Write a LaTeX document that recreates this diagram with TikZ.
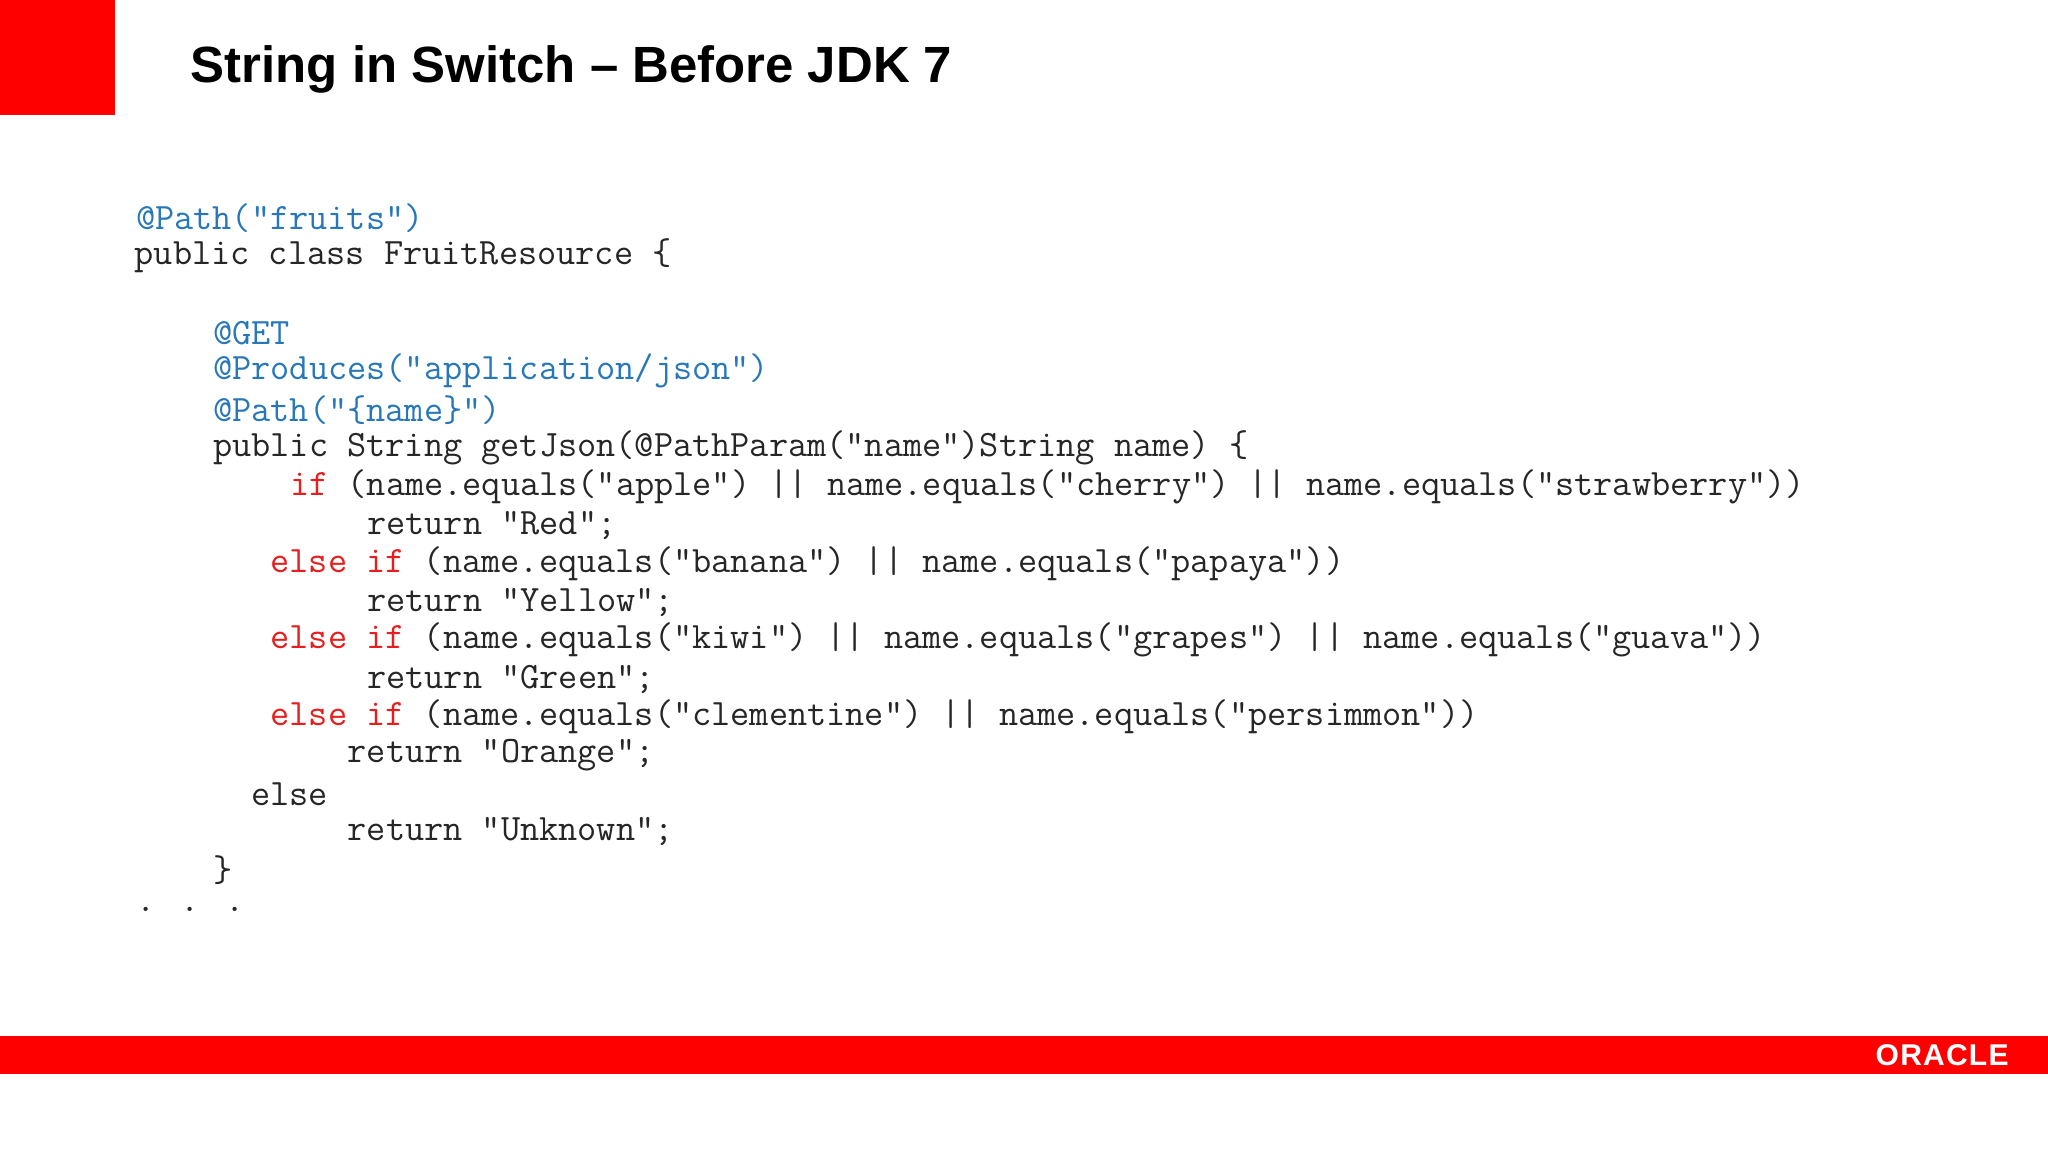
\documentclass[tikz,border=0pt]{standalone}
\usepackage{fontspec}
\setmainfont{Liberation Sans}
\definecolor{ored}{RGB}{255,0,0}
\definecolor{kw}{RGB}{232,30,30}
\definecolor{ann}{RGB}{40,120,185}
\begin{document}
\begin{tikzpicture}[x=1pt,y=-1pt,
  code/.style={anchor=west,inner sep=0pt,font=\ttfamily\fontsize{28.5}{29}\selectfont,text=black!85}]
\useasboundingbox (0,0) rectangle (1568,882);
\fill[white] (0,0) rectangle (1568,882);
\fill[ored] (0,0) rectangle (88,88);
\node[anchor=west,inner sep=0pt,font=\bfseries\fontsize{39}{44}\selectfont] (title) at (146,53) {String in Switch – Before JDK 7};
\fill[ored] (0,793) rectangle (1568,822);
\node[anchor=east,inner sep=0pt,text=white,font=\bfseries\fontsize{23}{24}\selectfont\addfontfeature{LetterSpace=4}] (oracle) at (1538,808) {ORACLE};
\node[code,text=ann] (l1) at (104,167) {@Path("fruits")};
\node[code] (l2) at (103,196) {public class FruitResource \{};
\node[code,text=ann] (l3) at (163,255) {@GET};
\node[code,text=ann] (l4) at (163,284) {@Produces("application/json")};
\node[code,text=ann] (l5) at (163,314) {@Path("\{name\}")};
\node[code] (l6) at (163,343) {public String getJson(@PathParam("name")String name) \{};
\node[code] (l7) at (222,373) {\textcolor{kw}{if} (name.equals("apple") || name.equals("cherry") || name.equals("strawberry"))};
\node[code] (l8) at (281,402) {return "Red";};
\node[code] (l9) at (207,432) {\textcolor{kw}{else if} (name.equals("banana") || name.equals("papaya"))};
\node[code] (l10) at (281,461) {return "Yellow";};
\node[code] (l11) at (207,490) {\textcolor{kw}{else if} (name.equals("kiwi") || name.equals("grapes") || name.equals("guava"))};
\node[code] (l12) at (281,520) {return "Green";};
\node[code] (l13) at (207,549) {\textcolor{kw}{else if} (name.equals("clementine") || name.equals("persimmon"))};
\node[code] (l14) at (266,578) {return "Orange";};
\node[code] (l15) at (192,608) {else};
\node[code] (l16) at (266,637) {return "Unknown";};
\node[code] (l17) at (163,666) {\}};
\node[code] (l18) at (104,696) {. . .};
\end{tikzpicture}
\end{document}
